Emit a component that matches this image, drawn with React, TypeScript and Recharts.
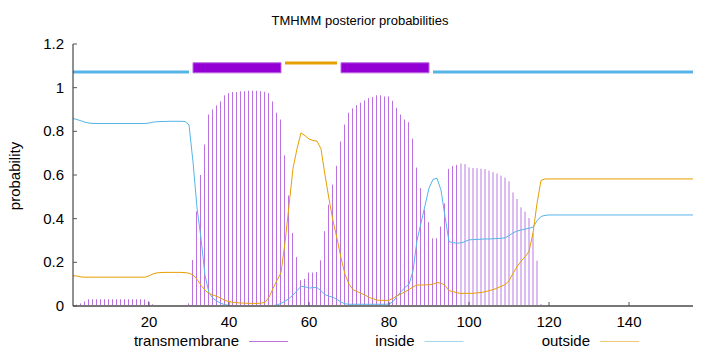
import {
  ComposedChart,
  Bar,
  Line,
  XAxis,
  YAxis,
  ReferenceArea,
  ReferenceLine,
} from "recharts";

// posterior probabilities per residue (1..156)
const tm = [
  0.002, 0.006, 0.012, 0.021, 0.031, 0.031, 0.031, 0.031, 0.031, 0.031,
  0.031, 0.031, 0.031, 0.031, 0.031, 0.031, 0.031, 0.031, 0.030, 0.022,
  0.008, 0.003, 0.001, 0, 0, 0, 0, 0, 0.001, 0.012,
  0.211, 0.433, 0.6, 0.74, 0.877, 0.9, 0.919, 0.937, 0.965, 0.975,
  0.98, 0.98, 0.983, 0.984, 0.986, 0.986, 0.986, 0.984, 0.981, 0.975,
  0.937, 0.885, 0.854, 0.69, 0.506, 0.334, 0.224, 0.118, 0.124, 0.153,
  0.153, 0.156, 0.209, 0.343, 0.464, 0.556, 0.642, 0.753, 0.831, 0.885,
  0.905, 0.92, 0.931, 0.942, 0.952, 0.957, 0.965, 0.965, 0.96, 0.96,
  0.94, 0.908, 0.877, 0.854, 0.842, 0.766, 0.634, 0.54, 0.44, 0.384,
  0.31, 0.31, 0.364, 0.47, 0.628, 0.641, 0.646, 0.652, 0.65, 0.635,
  0.632, 0.631, 0.629, 0.627, 0.62, 0.613, 0.607, 0.597, 0.588, 0.571,
  0.52, 0.49, 0.452, 0.432, 0.403, 0.334, 0.208, 0.009, 0, 0,
  0, 0, 0, 0, 0, 0, 0, 0, 0, 0,
  0, 0, 0, 0, 0, 0, 0, 0, 0, 0,
  0, 0, 0, 0, 0, 0, 0, 0, 0, 0,
  0, 0, 0, 0, 0, 0,
];

const inside = [
  0.859, 0.854, 0.848, 0.842, 0.838, 0.836, 0.836, 0.836, 0.836, 0.836,
  0.836, 0.836, 0.836, 0.836, 0.836, 0.836, 0.836, 0.836, 0.836, 0.838,
  0.842, 0.844, 0.845, 0.845, 0.846, 0.846, 0.846, 0.846, 0.845, 0.83,
  0.66, 0.45, 0.31, 0.14, 0.06, 0.035, 0.022, 0.012, 0.006, 0.003,
  0.001, 0.001, 0.001, 0.001, 0.001, 0.001, 0.001, 0.001, 0.001, 0.001,
  0.002, 0.005, 0.012, 0.022, 0.034, 0.05, 0.07, 0.09, 0.088, 0.082,
  0.084, 0.085, 0.07, 0.052, 0.045, 0.04, 0.03, 0.018, 0.01, 0.008,
  0.008, 0.008, 0.008, 0.008, 0.008, 0.008, 0.008, 0.008, 0.008, 0.009,
  0.02, 0.045, 0.065, 0.085, 0.1, 0.16, 0.3, 0.38, 0.46, 0.54,
  0.58, 0.585, 0.53, 0.41, 0.295, 0.29, 0.288, 0.289, 0.295, 0.303,
  0.304, 0.305, 0.306, 0.307, 0.307, 0.308, 0.309, 0.31, 0.312, 0.322,
  0.335, 0.343, 0.348, 0.352, 0.356, 0.361, 0.39, 0.41, 0.415, 0.417,
  0.417, 0.417, 0.417, 0.417, 0.417, 0.417, 0.417, 0.417, 0.417, 0.417,
  0.417, 0.417, 0.417, 0.417, 0.417, 0.417, 0.417, 0.417, 0.417, 0.417,
  0.417, 0.417, 0.417, 0.417, 0.417, 0.417, 0.417, 0.417, 0.417, 0.417,
  0.417, 0.417, 0.417, 0.417, 0.417, 0.417,
];

const outside = [
  0.139, 0.137, 0.133, 0.132, 0.132, 0.132, 0.132, 0.132, 0.132, 0.132,
  0.132, 0.132, 0.132, 0.132, 0.132, 0.132, 0.132, 0.132, 0.132, 0.138,
  0.147, 0.152, 0.153, 0.154, 0.154, 0.154, 0.154, 0.154, 0.153, 0.15,
  0.142, 0.123, 0.095, 0.072, 0.058, 0.05, 0.044, 0.035, 0.026, 0.02,
  0.017, 0.015, 0.014, 0.013, 0.012, 0.012, 0.012, 0.013, 0.017, 0.04,
  0.08, 0.118, 0.153, 0.29, 0.46, 0.63, 0.72, 0.793, 0.78, 0.765,
  0.758, 0.755, 0.72, 0.6, 0.49, 0.39, 0.31, 0.22, 0.145, 0.1,
  0.075, 0.066, 0.058, 0.05, 0.04, 0.033, 0.027, 0.026, 0.026, 0.026,
  0.035, 0.047, 0.055, 0.065, 0.075, 0.088, 0.096, 0.096, 0.097, 0.097,
  0.1, 0.107, 0.105, 0.095, 0.07, 0.066, 0.06, 0.058, 0.058, 0.058,
  0.058, 0.06, 0.062, 0.065, 0.07, 0.075, 0.082, 0.09, 0.098, 0.115,
  0.15, 0.18, 0.205, 0.225, 0.25, 0.334, 0.47, 0.575, 0.582, 0.582,
  0.582, 0.582, 0.582, 0.582, 0.582, 0.582, 0.582, 0.582, 0.582, 0.582,
  0.582, 0.582, 0.582, 0.582, 0.582, 0.582, 0.582, 0.582, 0.582, 0.582,
  0.582, 0.582, 0.582, 0.582, 0.582, 0.582, 0.582, 0.582, 0.582, 0.582,
  0.582, 0.582, 0.582, 0.582, 0.582, 0.582,
];

// predicted topology (start, end residue)
const helices = [
  [31, 53],
  [68, 90],
];
const insideSegs = [
  [1, 30],
  [91, 156],
];
const outsideSegs = [[54, 67]];

const seriesNames = ["transmembrane", "inside", "outside"];
const xTicks = [20, 40, 60, 80, 100, 120, 140];
const yTicks = [0, 0.2, 0.4, 0.6, 0.8, 1, 1.2];

const PURPLE = "#bb72e0";
const PALE = "#ddbdf1";
const BLUE = "#56b4e9";
const ORANGE = "#e69f00";
const FONT = "'Liberation Sans', Arial, sans-serif";

const data = tm.map((v, i) => ({
  pos: i + 1,
  tm: v,
  inside: inside[i],
  outside: outside[i],
}));

// thin impulse instead of a normal bar
const Impulse = (props: any) => {
  const { x, y, width, height, payload } = props;
  if (!height || height <= 0) return null;
  const cx = x + width / 2;
  const pale = payload.pos >= 98;
  const w = pale ? 2 : 1;
  return (
    <rect
      x={Math.round(cx - w / 2)}
      y={y}
      width={w}
      height={height}
      fill={pale ? PALE : PURPLE}
    />
  );
};

const XTick = ({ x, y, payload }: any) => (
  <g>
    <line x1={x} x2={x} y1={y} y2={y - 4} stroke="#555" />
    <text x={x} y={y + 21} textAnchor="middle" fontSize={15} fill="#000" fontFamily={FONT}>
      {payload.value}
    </text>
  </g>
);

const YTick = ({ x, y, payload }: any) => (
  <g>
    <line x1={x} x2={x + 4} y1={y} y2={y} stroke="#555" />
    <text x={x - 9} y={y + 5} textAnchor="end" fontSize={15} fill="#000" fontFamily={FONT}>
      {payload.value}
    </text>
  </g>
);

const TopTick = ({ x, y }: any) => (
  <line x1={x} x2={x} y1={y} y2={y + 4} stroke="#555" />
);

const RightTick = ({ x, y }: any) => (
  <line x1={x} x2={x - 4} y1={y} y2={y} stroke="#555" />
);

const legendColors = [PURPLE, "#a9d5ec", "#efc878"];

export default function App() {
  return (
    <div
      style={{
        position: "absolute",
        left: 0,
        top: 0,
        width: 720,
        height: 352,
        background: "#fff",
        fontFamily: FONT,
      }}
    >
      <ComposedChart
        width={720}
        height={352}
        data={data}
        margin={{ top: 44, right: 27, bottom: 16, left: 23 }}
      >
        <XAxis
          dataKey="pos"
          type="number"
          domain={[1, 156]}
          ticks={xTicks}
          height={30}
          tickLine={false}
          tickSize={0}
          tickMargin={0}
          tick={<XTick />}
          axisLine={{ stroke: "#777", strokeWidth: 2 }}
          allowDataOverflow
        />
        <XAxis
          xAxisId="top"
          orientation="top"
          type="number"
          domain={[1, 156]}
          ticks={xTicks}
          height={0}
          tickLine={false}
          tickSize={0}
          tickMargin={0}
          tick={<TopTick />}
          axisLine={{ stroke: "#222" }}
        />
        <YAxis
          domain={[0, 1.2]}
          ticks={yTicks}
          width={50}
          tickLine={false}
          tickSize={0}
          tickMargin={0}
          tick={<YTick />}
          axisLine={{ stroke: "#222" }}
          allowDataOverflow
        />
        <YAxis
          yAxisId="right"
          orientation="right"
          domain={[0, 1.2]}
          ticks={yTicks}
          width={0}
          tickLine={false}
          tickSize={0}
          tickMargin={0}
          tick={<RightTick />}
          axisLine={{ stroke: "#777", strokeWidth: 2 }}
        />

        {/* topology track on top */}
        {insideSegs.map(([a, b]) => (
          <ReferenceLine
            key={"in" + a}
            segment={[
              { x: a, y: 1.072 },
              { x: b, y: 1.072 },
            ]}
            stroke={BLUE}
            strokeWidth={3}
          />
        ))}
        {outsideSegs.map(([a, b]) => (
          <ReferenceLine
            key={"out" + a}
            segment={[
              { x: a, y: 1.113 },
              { x: b, y: 1.113 },
            ]}
            stroke={ORANGE}
            strokeWidth={3}
          />
        ))}
        {helices.map(([a, b]) => (
          <ReferenceArea
            key={"tm" + a}
            x1={a}
            x2={b}
            y1={1.068}
            y2={1.114}
            fill="#9400d3"
            fillOpacity={1}
            stroke="#b966e3"
            strokeWidth={1}
          />
        ))}

        <Bar dataKey="tm" barSize={1} shape={<Impulse />} isAnimationActive={false} />
        <Line
          type="linear"
          dataKey="inside"
          stroke={BLUE}
          strokeWidth={1}
          dot={false}
          isAnimationActive={false}
        />
        <Line
          type="linear"
          dataKey="outside"
          stroke={ORANGE}
          strokeWidth={1}
          dot={false}
          isAnimationActive={false}
        />
      </ComposedChart>

      <svg
        width={720}
        height={352}
        style={{ position: "absolute", left: 0, top: 0, pointerEvents: "none" }}
      >
        <text x={360} y={25} textAnchor="middle" fontSize={13} fontFamily={FONT} fill="#000">
          TMHMM posterior probabilities
        </text>
        <text
          x={0}
          y={0}
          transform="translate(20,176) rotate(-90)"
          textAnchor="middle"
          fontSize={15}
          fontFamily={FONT}
          fill="#000"
        >
          probability
        </text>
        {seriesNames.map((name, i) => {
          const end = 239 + i * 175.5;
          return (
            <g key={name}>
              <text x={end} y={346} textAnchor="end" fontSize={15} fontFamily={FONT} fill="#000">
                {name}
              </text>
              <line
                x1={end + 10}
                x2={end + 49}
                y1={341.5}
                y2={341.5}
                stroke={legendColors[i]}
                strokeWidth={1}
              />
            </g>
          );
        })}
      </svg>
    </div>
  );
}
